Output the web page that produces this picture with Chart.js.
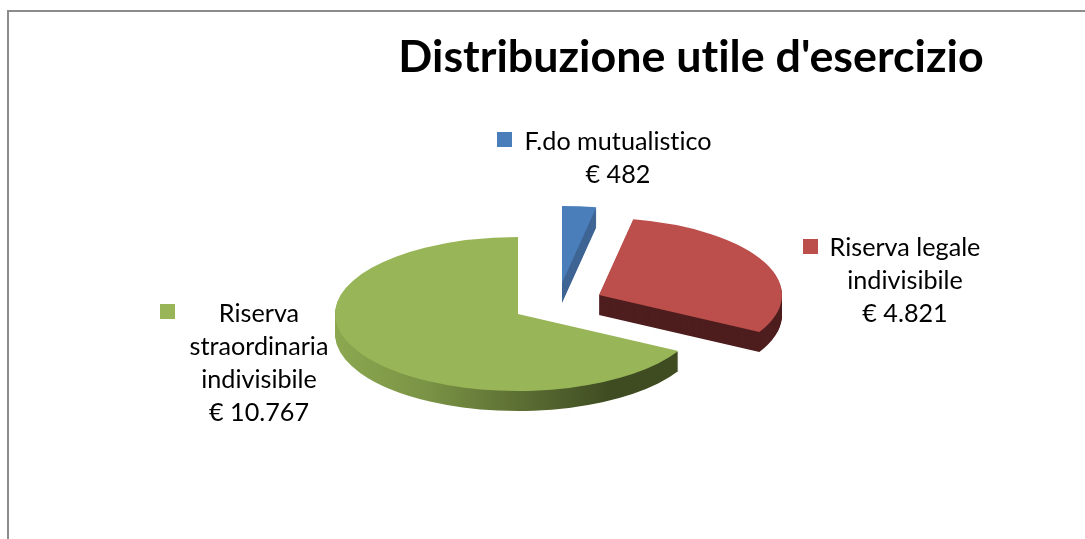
<!DOCTYPE html>
<html lang="it">
<head>
<meta charset="utf-8">
<title>Distribuzione utile d'esercizio</title>
<script src="https://cdn.jsdelivr.net/npm/chart.js@4"></script>
<style>
html,body{margin:0;padding:0;background:#fff;overflow:hidden}
#wrap{position:relative;width:1085px;height:539px}
#frame{position:absolute;left:7px;top:10px;right:0;bottom:0;border-top:2px solid #8c8c8c;border-left:2px solid #8c8c8c}
canvas{position:absolute;left:0;top:0}
</style>
</head>
<body>
<div id="wrap"><div id="frame"></div><canvas id="c" width="1085" height="539"></canvas></div>
<script>
const chartTitle = "Distribuzione utile d'esercizio";
const categories = ["F.do mutualistico", "Riserva legale indivisibile", "Riserva straordinaria indivisibile"];
const labelLines = [["F.do mutualistico"], ["Riserva legale", "indivisibile"], ["Riserva", "straordinaria", "indivisibile"]];
const values = [482, 4821, 10767];
const topColors = ["#4a7ebb", "#bc4f4c", "#98b558"];
const sideColors = ["#3e6594", "#4e1e1e", null];

const euro = v => "€ " + String(v).replace(/\B(?=(\d{3})+$)/g, ".");

const pie3d = {
  id: "pie3d",
  beforeDraw(chart) {
    chart.ctx.textRendering = "optimizeSpeed";
  },
  beforeDatasetDraw(chart, args, opts) {
    const ctx = chart.ctx;
    const arcs = chart.getDatasetMeta(0).data;
    arcs.forEach((arc, i) => {
      const c = opts.centers[i];
      const R = arc.outerRadius;
      const base = arc.options;
      ctx.save();
      for (let d = opts.depth; d >= 1; d--) {
        ctx.save();
        ctx.translate(c[0], c[1] + d);
        ctx.scale(opts.rx / R, opts.ry / R);
        ctx.translate(-arc.x, -arc.y);
        let fill = sideColors[i];
        if (!fill) {
          fill = ctx.createLinearGradient(arc.x - R, 0, arc.x + R, 0);
          fill.addColorStop(0, "#8ca850");
          fill.addColorStop(0.25, "#7a9345");
          fill.addColorStop(0.75, "#3f4c22");
          fill.addColorStop(1, "#3f4c22");
        }
        arc.options = {...base, backgroundColor: fill};
        arc.draw(ctx);
        ctx.restore();
      }
      ctx.translate(c[0], c[1]);
      ctx.scale(opts.rx / R, opts.ry / R);
      ctx.translate(-arc.x, -arc.y);
      arc.options = base;
      arc.draw(ctx);
      ctx.restore();
    });
    return false;
  },
  afterDraw(chart, args, opts) {
    const ctx = chart.ctx;
    ctx.save();
    ctx.textAlign = "center";
    ctx.textBaseline = "alphabetic";
    ctx.font = opts.font;
    ctx.fillStyle = "#000";
    opts.labels.forEach((l, i) => {
      ctx.save();
      ctx.fillStyle = topColors[i];
      ctx.fillRect(l.sw[0], l.sw[1], l.sw[2], l.sw[2]);
      ctx.restore();
      const lines = labelLines[i].concat(euro(values[i]));
      lines.forEach((t, k) => ctx.fillText(t, l.cx, l.base + k * opts.lineHeight));
    });
    ctx.restore();
  }
};

new Chart(document.getElementById("c"), {
  type: "pie",
  data: {
    labels: categories,
    datasets: [{ data: values, backgroundColor: topColors, borderWidth: 0 }]
  },
  plugins: [pie3d],
  options: {
    responsive: false,
    animation: false,
    layout: { padding: { left: 297 } },
    plugins: {
      legend: { display: false },
      tooltip: { enabled: false },
      title: {
        display: true,
        text: chartTitle,
        color: "#000",
        font: { family: "Lato", size: 44.8, weight: "bold" },
        padding: { top: 31, bottom: 10 }
      },
      pie3d: {
        rx: 183, ry: 77, depth: 20,
        centers: [[562, 283], [599, 295], [518, 314]],
        font: "25.2px Lato",
        lineHeight: 33,
        labels: [
          { sw: [497, 132, 15], cx: 618, base: 150 },
          { sw: [803, 239, 15], cx: 905, base: 256 },
          { sw: [160, 304, 15], cx: 259, base: 322 }
        ]
      }
    }
  }
});
</script>
</body>
</html>
